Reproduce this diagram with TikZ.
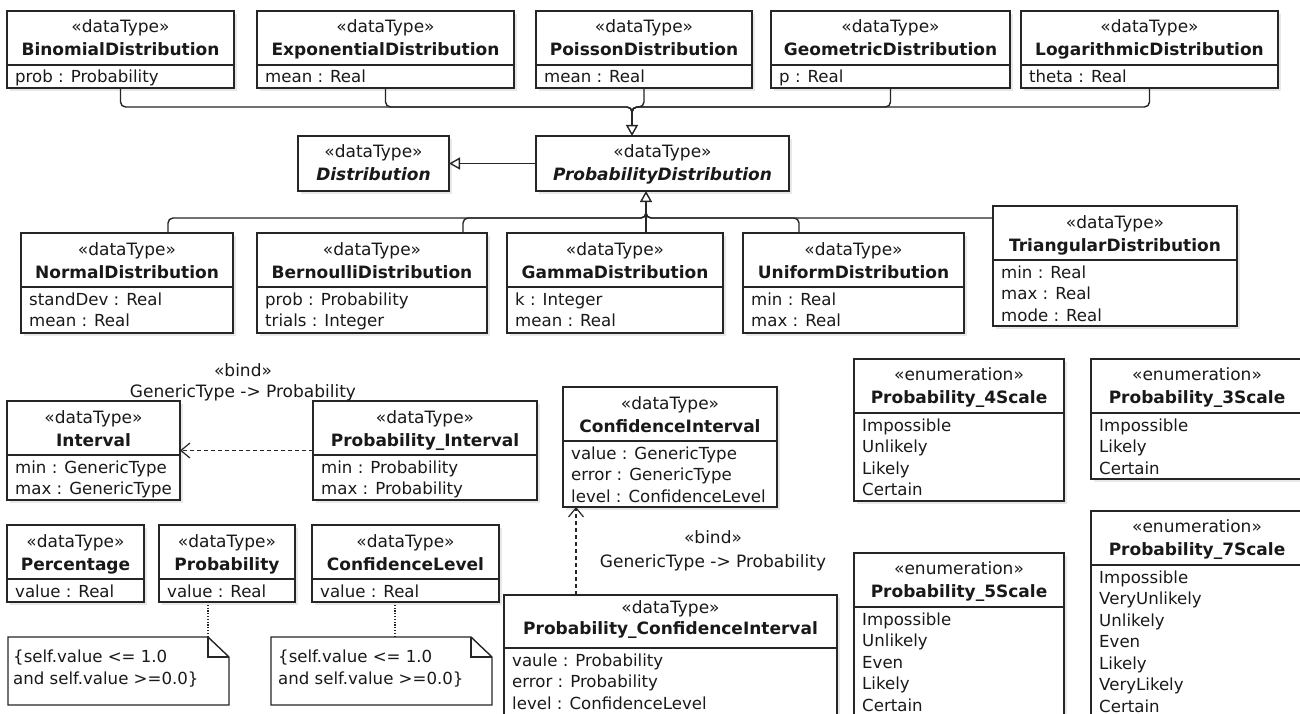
\documentclass[tikz,border=0pt]{standalone}
\usepackage{fontspec}
\setmainfont{DejaVu Sans}
\usetikzlibrary{arrows.meta,shadows}
\newcommand\UMLst{22}
\newcommand\UMLnm{45}
\newcommand\UMLdv{54}
\newcommand\umlclass[9]{%
  \node[cls, minimum width={#4-#2}, minimum height={#5-#3}] (#1) at (#2,#3) {};
  \node[txt] (#1-st) at ({(#2+#4)/2},{#3+\UMLst}) {#6};
  \node[#8] (#1-nm) at ({(#2+#4)/2},{#3+\UMLnm}) {#7};
  \if\relax\detokenize{#9}\relax\else
    \draw[divline] ([yshift=-\UMLdv]#1.north west) -- ([yshift=-\UMLdv]#1.north east);
    \foreach \attrtext [count=\i from 0] in {#9} {\node[attr] (#1-a\i) at ({#2+8},{#3+\UMLdv+18+21.5*\i}) {\attrtext};}
  \fi
}
\begin{document}
\begin{tikzpicture}[x=1pt,y=-1pt,
  cls/.style={draw=black!85, line width=1.5pt, fill=white, inner sep=0pt, outer sep=0pt, anchor=north west,
    drop shadow={shadow xshift=3pt, shadow yshift=-3pt, opacity=0.18}},
  txt/.style={font=\fontsize{17}{20}\selectfont, inner sep=0pt, anchor=base, text=black!90},
  ttl/.style={txt, font=\fontsize{17}{20}\selectfont\bfseries},
  ttli/.style={txt, font=\fontsize{17}{20}\selectfont\bfseries\itshape},
  attr/.style={txt, font=\fontsize{16.6}{20}\selectfont, anchor=base west},
  divline/.style={draw=black!85, line width=1.3pt},
  conn/.style={draw=black!85, line width=1.4pt, rounded corners=5pt},
  gen/.style={draw=black!85, line width=1.4pt, -{Triangle[length=11pt, width=12pt, fill=white]}},
  bind/.style={draw=black!85, line width=1.2pt, dash pattern=on 4pt off 3pt, -{Straight Barb[length=9pt, width=15pt]}},
  notel/.style={draw=black!85, line width=1.2pt, dash pattern=on 1.2pt off 1.6pt},
  notebox/.style={draw=black!85, line width=1.4pt, line join=miter}
]
\useasboundingbox (0,0) rectangle (1300,714);
\fill[white] (0,0) rectangle (1300,714);
\clip (0,0) rectangle (1300,714);

% ---------- top row ----------
\umlclass{binom}{7}{11}{234}{88}{«dataType»}{BinomialDistribution}{ttl}{prob : Probability}
\umlclass{expo}{257}{11}{514}{88}{«dataType»}{ExponentialDistribution}{ttl}{mean : Real}
\umlclass{poisson}{536}{11}{752}{88}{«dataType»}{PoissonDistribution}{ttl}{mean : Real}
\umlclass{geom}{771}{11}{1010}{88}{«dataType»}{GeometricDistribution}{ttl}{p : Real}
\umlclass{loga}{1021}{11}{1278}{88}{«dataType»}{LogarithmicDistribution}{ttl}{theta : Real}

% ---------- abstract ----------
\umlclass{dist}{298}{136}{449}{191}{«dataType»}{Distribution}{ttli}{}
\umlclass{pd}{536}{136}{789}{191}{«dataType»}{ProbabilityDistribution}{ttli}{}

% ---------- children ----------
\umlclass{normal}{21}{233}{233}{333}{«dataType»}{NormalDistribution}{ttl}{standDev : Real,mean : Real}
\umlclass{bern}{257}{233}{487}{333}{«dataType»}{BernoulliDistribution}{ttl}{prob : Probability,trials : Integer}
\umlclass{gamma}{507}{233}{723}{333}{«dataType»}{GammaDistribution}{ttl}{k : Integer,mean : Real}
\umlclass{uni}{743}{233}{964}{333}{«dataType»}{UniformDistribution}{ttl}{min : Real,max : Real}
\umlclass{tri}{993}{206}{1237}{326}{«dataType»}{TriangularDistribution}{ttl}{min : Real,max : Real,mode : Real}

% ---------- intervals ----------
\umlclass{interval}{7}{401}{180}{500}{«dataType»}{Interval}{ttl}{min : GenericType,max : GenericType}
\umlclass{pint}{313}{401}{537}{500}{«dataType»}{Probability\_Interval}{ttl}{min : Probability,max : Probability}
\umlclass{ci}{563}{387}{777}{507}{«dataType»}{ConfidenceInterval}{ttl}{value : GenericType,error : GenericType,level : ConfidenceLevel}
\umlclass{pct}{7}{525}{144}{602}{«dataType»}{Percentage}{ttl}{value : Real}
\umlclass{prob}{159}{525}{295}{602}{«dataType»}{Probability}{ttl}{value : Real}
\umlclass{cl}{312}{525}{499}{602}{«dataType»}{ConfidenceLevel}{ttl}{value : Real}
\renewcommand\UMLst{18}\renewcommand\UMLnm{39}\renewcommand\UMLdv{53}
\umlclass{pci}{504}{595}{837}{730}{«dataType»}{Probability\_ConfidenceInterval}{ttl}{vaule : Probability,error : Probability,level : ConfidenceLevel}

% ---------- enumerations ----------
\renewcommand\UMLst{21}\renewcommand\UMLnm{44}\renewcommand\UMLdv{54}
\umlclass{s4}{854}{359}{1064}{501}{«enumeration»}{Probability\_4Scale}{ttl}{Impossible,Unlikely,Likely,Certain}
\umlclass{s3}{1091}{359}{1303}{479}{«enumeration»}{Probability\_3Scale}{ttl}{Impossible,Likely,Certain}
\umlclass{s5}{854}{553}{1064}{730}{«enumeration»}{Probability\_5Scale}{ttl}{Impossible,Unlikely,Even,Likely,Certain}
\umlclass{s7}{1091}{511}{1303}{730}{«enumeration»}{Probability\_7Scale}{ttl}{Impossible,VeryUnlikely,Unlikely,Even,Likely,VeryLikely,Certain}

% ---------- notes ----------
\node[minimum width=221, minimum height=68, inner sep=0pt, outer sep=0pt, anchor=north west] (note1) at (8,637) {};
\draw[notebox, fill=white] (note1.north west) -- ([xshift=-21]note1.north east) -- ([yshift=-20]note1.north east) -- (note1.south east) -- (note1.south west) -- cycle;
\draw[notebox] ([xshift=-21]note1.north east) -- ([xshift=-21,yshift=-20]note1.north east) -- ([yshift=-20]note1.north east);
\node[attr] (note1-t1) at (13,662) {\{self.value <= 1.0};
\node[attr] (note1-t2) at (13,684) {and self.value >=0.0\}};

\node[minimum width=221, minimum height=68, inner sep=0pt, outer sep=0pt, anchor=north west] (note2) at (271,637) {};
\draw[notebox, fill=white] (note2.north west) -- ([xshift=-21]note2.north east) -- ([yshift=-20]note2.north east) -- (note2.south east) -- (note2.south west) -- cycle;
\draw[notebox] ([xshift=-21]note2.north east) -- ([xshift=-21,yshift=-20]note2.north east) -- ([yshift=-20]note2.north east);
\node[attr] (note2-t1) at (278,662) {\{self.value <= 1.0};
\node[attr] (note2-t2) at (278,684) {and self.value >=0.0\}};

\draw[notel] ([xshift=49]prob.south west) -- ([xshift=200]note1.north west);
\draw[notel] ([xshift=83]cl.south west) -- ([xshift=124]note2.north west);

% ---------- generalizations (top) ----------
\coordinate (jt) at (632,107);
\coordinate (jt2) at (632,121);
\draw[conn] (binom.south) |- (jt) -- (jt2);
\draw[conn] (expo.south) |- (jt) -- (jt2);
\draw[conn] (poisson.south) |- (jt) -- (jt2);
\draw[conn] (geom.south) |- (jt) -- (jt2);
\draw[conn] (loga.south) |- (jt) -- (jt2);
\draw[gen] (jt2) -- (pd.north -| jt2);

\draw[gen] (pd.west) -- (dist.east);

% ---------- generalizations (children) ----------
\coordinate (jb) at (646,218);
\coordinate (jb2) at (646,206);
\draw[conn] ([xshift=147]normal.north west) |- (jb) -- (jb2);
\draw[conn] ([xshift=206]bern.north west) |- (jb) -- (jb2);
\draw[conn] ([xshift=139]gamma.north west) -- (jb2);
\draw[conn] ([xshift=56]uni.north west) |- (jb) -- (jb2);
\draw[conn] (tri.west |- jb) -- (jb) -- (jb2);
\draw[gen] (jb2) -- (pd.south -| jb2);

% ---------- bindings ----------
\draw[bind] (pint.west) -- (interval.east);
\node[txt] (bind1-st) at (243,376) {«bind»};
\node[txt] (bind1-lb) at (243,397) {GenericType -> Probability};

\draw[bind] ([xshift=72]pci.north west) -- ([xshift=13]ci.south west);
\node[txt] (bind2-st) at (713,543) {«bind»};
\node[txt] (bind2-lb) at (713,567) {GenericType -> Probability};
\end{tikzpicture}
\end{document}
